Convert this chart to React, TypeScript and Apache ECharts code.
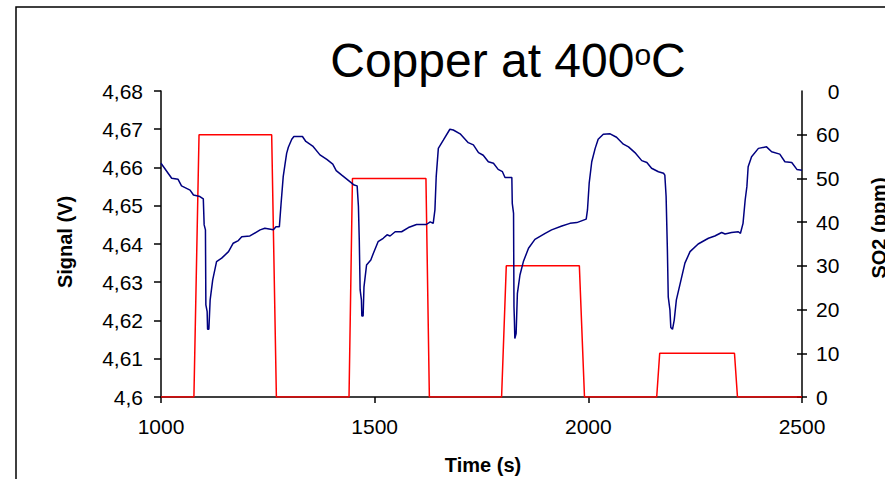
import React, { useEffect, useRef } from "react";
import * as echarts from "echarts";

const signalTime = [
  1000, 1025, 1040, 1048, 1068, 1076, 1091, 1099, 1101, 1104, 1105, 1108, 1109, 1112, 1115, 1121,
  1130, 1142, 1158, 1169, 1181, 1189, 1208, 1232, 1243, 1263, 1269, 1277, 1281, 1286, 1290, 1294,
  1298, 1306, 1311, 1331, 1339, 1355, 1372, 1388, 1402, 1410, 1423, 1442, 1452, 1459, 1462, 1464,
  1466, 1469, 1470, 1473, 1475, 1481, 1491, 1497, 1508, 1520, 1529, 1536, 1548, 1563, 1579, 1598,
  1621, 1630, 1637, 1641, 1644, 1649, 1661, 1676, 1684, 1700, 1719, 1731, 1743, 1754, 1766, 1778,
  1789, 1799, 1805, 1813, 1821, 1822, 1825, 1826, 1827, 1828, 1831, 1834, 1840, 1848, 1860, 1875,
  1899, 1914, 1938, 1957, 1973, 1995, 1998, 2002, 2008, 2016, 2023, 2035, 2051, 2066, 2082, 2094,
  2109, 2125, 2137, 2148, 2164, 2176, 2179, 2182, 2185, 2187, 2191, 2193, 2197, 2201, 2206, 2215,
  2226, 2238, 2257, 2281, 2296, 2312, 2320, 2335, 2351, 2356, 2362, 2367, 2371, 2374, 2382, 2398,
  2417, 2429, 2448, 2460, 2476, 2488, 2500,
];
const signalValue = [
  4.6611, 4.6572, 4.6569, 4.6552, 4.6541, 4.6528, 4.6524, 4.6518, 4.645, 4.6437, 4.6241, 4.6223, 4.6177, 4.6177, 4.6254, 4.6306,
  4.6354, 4.6363, 4.638, 4.6402, 4.6409, 4.6419, 4.6421, 4.6437, 4.6441, 4.6437, 4.6445, 4.6445, 4.6506, 4.6576, 4.6607, 4.6637,
  4.6653, 4.6674, 4.6681, 4.6681, 4.6668, 4.6656, 4.6633, 4.6621, 4.6609, 4.6592, 4.658, 4.6563, 4.6554, 4.6552, 4.6498, 4.641,
  4.628, 4.6254, 4.6212, 4.6212, 4.6288, 4.6345, 4.6358, 4.6376, 4.6406, 4.6415, 4.6424, 4.6421, 4.6432, 4.6432, 4.6443, 4.6451,
  4.6451, 4.6458, 4.6454, 4.6489, 4.6576, 4.665, 4.6672, 4.67, 4.6698, 4.6688, 4.6665, 4.6659, 4.6639, 4.6632, 4.6615, 4.6611,
  4.6595, 4.6589, 4.6574, 4.6574, 4.6574, 4.6506, 4.648, 4.6236, 4.6201, 4.6153, 4.6166, 4.6271, 4.6319, 4.6354, 4.6389, 4.6412,
  4.6428, 4.6437, 4.6447, 4.6454, 4.6456, 4.6465, 4.6489, 4.6559, 4.6615, 4.665, 4.6674, 4.6687, 4.6688, 4.6679, 4.6661, 4.6654,
  4.6639, 4.6618, 4.6613, 4.6598, 4.6589, 4.6585, 4.658, 4.6524, 4.6384, 4.6262, 4.6227, 4.6182, 4.6177, 4.6201, 4.6254, 4.6297,
  4.635, 4.638, 4.64, 4.6415, 4.6421, 4.643, 4.6426, 4.643, 4.6432, 4.6428, 4.6454, 4.6515, 4.655, 4.6602, 4.6628, 4.665,
  4.6654, 4.6641, 4.6635, 4.6615, 4.6613, 4.6595, 4.6593,
];

const so2Time = [1000, 1077, 1089, 1259, 1270, 1440, 1448, 1620, 1628, 1797, 1808, 1979, 1991, 2160, 2167, 2342, 2349, 2500];
const so2Value = [0, 0, 60, 60, 0, 0, 50, 50, 0, 0, 30, 30, 0, 0, 10, 10, 0, 0];

const rightTicks = [0, 10, 20, 30, 40, 50, 60];

const FONT = "'Liberation Sans', Arial, sans-serif";
const LABEL_SIZE = 21;

export default function App() {
  const ref = useRef<HTMLDivElement>(null);
  useEffect(() => {
    if (!ref.current) return;
    const chart = echarts.init(ref.current, null, { renderer: "svg" });
    const signalData = signalTime.map((t, i) => [t, signalValue[i]]);
    const so2Data = so2Time.map((t, i) => [t, so2Value[i]]);
    const fmtSignal = (v: number) => String(Number(v.toFixed(2))).replace(".", ",");
    chart.setOption({
      animation: false,
      backgroundColor: "#fff",
      grid: { left: 161, right: 83, top: 91, bottom: 82, containLabel: false },
      xAxis: {
        type: "value",
        min: 1000,
        max: 2500,
        interval: 500,
        axisLine: { lineStyle: { color: "#000", width: 1.5 } },
        axisTick: { show: true, length: 6, inside: false, lineStyle: { color: "#000", width: 1.5 } },
        axisLabel: { color: "#000", fontSize: LABEL_SIZE, fontFamily: FONT, margin: 19, formatter: (v: number) => String(v) },
        splitLine: { show: false },
      },
      yAxis: [
        {
          type: "value",
          min: 4.6,
          max: 4.68,
          interval: 0.01,
          position: "left",
          axisLine: { show: true, lineStyle: { color: "#000", width: 1.5 } },
          axisTick: { show: true, length: 7, lineStyle: { color: "#000", width: 1.5 } },
          axisLabel: { color: "#000", fontSize: LABEL_SIZE, fontFamily: FONT, margin: 18, formatter: fmtSignal },
          splitLine: { show: false },
        },
        {
          type: "value",
          min: 0,
          max: 70,
          interval: 10,
          position: "right",
          axisLine: { show: true, lineStyle: { color: "#000", width: 1.5 } },
          axisTick: { show: true, length: 5, lineStyle: { color: "#000", width: 1.5 }, customValues: rightTicks },
          axisLabel: {
            color: "#000",
            fontSize: LABEL_SIZE,
            fontFamily: FONT,
            margin: 14,
            formatter: (v: number) => (v === 70 ? "{h|7}0" : String(v)),
            rich: { h: { color: "rgba(0,0,0,0)", fontSize: LABEL_SIZE, fontFamily: FONT } },
          },
          splitLine: { show: false },
        },
        {
          type: "value",
          min: 0,
          max: 70,
          interval: 10,
          position: "right",
          axisLine: { show: false },
          axisTick: { show: true, inside: true, length: 5, lineStyle: { color: "#000", width: 1.5 }, customValues: rightTicks },
          axisLabel: { show: false },
          splitLine: { show: false },
        },
      ],
      series: [
        {
          type: "line",
          name: "SO2",
          yAxisIndex: 1,
          data: so2Data,
          showSymbol: false,
          lineStyle: { color: "#ff0000", width: 1.5 },
          itemStyle: { color: "#ff0000" },
        },
        {
          type: "line",
          name: "Signal",
          yAxisIndex: 0,
          data: signalData,
          showSymbol: false,
          lineStyle: { color: "#000080", width: 1.5 },
          itemStyle: { color: "#000080" },
        },
      ],
      graphic: [
        {
          type: "rect",
          shape: { x: 16, y: 7, width: 900, height: 520 },
          style: { fill: "none", stroke: "#000", lineWidth: 1.5 },
          silent: true,
        },
        {
          type: "text",
          x: 508,
          y: 60,
          style: {
            text: "{a|Copper at 400}{s|o}{a|C}",
            align: "center",
            verticalAlign: "middle",
            rich: {
              a: { fontSize: 48, fontFamily: FONT, fill: "#000", lineHeight: 54 },
              s: { fontSize: 30, fontFamily: FONT, fill: "#000", lineHeight: 32, verticalAlign: "top", padding: [6, 0, 0, 0] },
            },
          },
        },
        {
          type: "text",
          x: 65,
          y: 242,
          rotation: Math.PI / 2,
          style: {
            text: "Signal (V)",
            align: "center",
            verticalAlign: "middle",
            font: `bold 20px ${FONT}`,
            fill: "#000",
          },
        },
        {
          type: "text",
          x: 879,
          y: 228,
          rotation: Math.PI / 2,
          style: {
            text: "SO2 (ppm)",
            align: "center",
            verticalAlign: "middle",
            font: `bold 20px ${FONT}`,
            fill: "#000",
          },
        },
        {
          type: "text",
          x: 483,
          y: 465,
          style: {
            text: "Time (s)",
            align: "center",
            verticalAlign: "middle",
            font: `bold 20px ${FONT}`,
            fill: "#000",
          },
        },
      ],
    });
    return () => chart.dispose();
  }, []);
  return (
    <div
      ref={ref}
      style={{ position: "fixed", left: 0, top: 0, width: 885, height: 479, background: "#fff" }}
    />
  );
}
